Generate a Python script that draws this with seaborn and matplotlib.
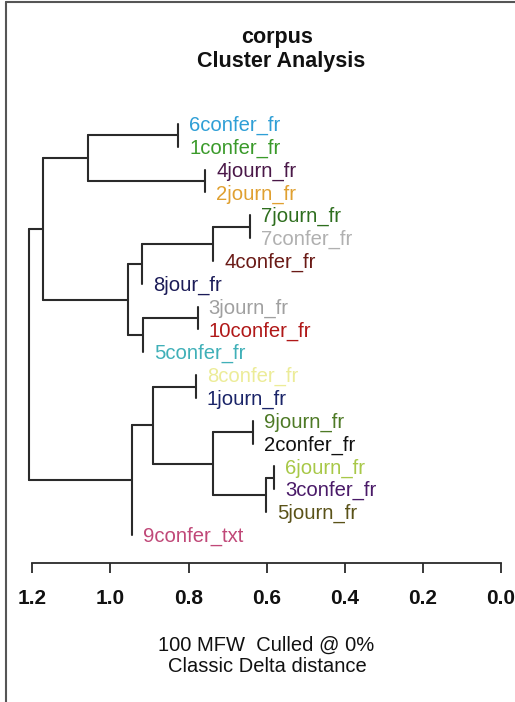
import numpy as np
import pandas as pd
import matplotlib
matplotlib.use("Agg")
import matplotlib.pyplot as plt
from matplotlib.lines import Line2D
import seaborn as sns

sns.set_theme(style="white")
plt.rcParams['font.family'] = ['Liberation Sans', 'DejaVu Sans']

# ---- data ----
leaves = ["6confer_fr", "1confer_fr", "4journ_fr", "2journ_fr", "7journ_fr",
          "7confer_fr", "4confer_fr", "8jour_fr", "3journ_fr", "10confer_fr",
          "5confer_fr", "8confer_fr", "1journ_fr", "9journ_fr", "2confer_fr",
          "6journ_fr", "3confer_fr", "5journ_fr", "9confer_txt"]
leaf_colors = ["#2f9fd6", "#3a9a2a", "#4a1848", "#e0a030", "#2e6e1e",
               "#b0b0b0", "#6a1a16", "#1c1c58", "#a0a0a0", "#b01818",
               "#40b0b8", "#ecec98", "#1a2468", "#4e7a26", "#101010",
               "#a8c848", "#4a1a68", "#5a5218", "#c04878"]
node_names = ["n1", "n2", "n3", "n4", "n5", "n6", "n7", "n8", "n9", "n10",
              "n11", "n12", "n13", "n14", "n15", "n16", "n17", "root"]
node_children = [["6confer_fr", "1confer_fr"], ["4journ_fr", "2journ_fr"], ["n1", "n2"],
                 ["7journ_fr", "7confer_fr"], ["n4", "4confer_fr"], ["n5", "8jour_fr"],
                 ["3journ_fr", "10confer_fr"], ["n7", "5confer_fr"], ["n6", "n8"],
                 ["n3", "n9"], ["8confer_fr", "1journ_fr"], ["9journ_fr", "2confer_fr"],
                 ["6journ_fr", "3confer_fr"], ["n13", "5journ_fr"], ["n12", "n14"],
                 ["n11", "n15"], ["n16", "9confer_txt"], ["n10", "n17"]]
node_heights = [0.826, 0.757, 1.057, 0.643, 0.737, 0.919, 0.777, 0.916, 0.955,
                1.173, 0.781, 0.635, 0.580, 0.602, 0.737, 0.891, 0.945, 1.208]
tick_values = [1.2, 1.0, 0.8, 0.6, 0.4, 0.2, 0.0]
tick_labels = ["1.2", "1.0", "0.8", "0.6", "0.4", "0.2", "0.0"]
title_lines = ["corpus", "Cluster Analysis"]
subtitle_lines = ["100 MFW  Culled @ 0%", "Classic Delta distance"]

# ---- tree geometry ----
ypos = {name: i for i, name in enumerate(leaves)}
height = dict(zip(node_names, node_heights))
parent_h = {}
for name, ch in zip(node_names, node_children):
    for c in ch:
        parent_h[c] = height[name]


def y_of(n):
    if n in ypos:
        return ypos[n]
    ch = node_children[node_names.index(n)]
    ypos[n] = (y_of(ch[0]) + y_of(ch[-1])) / 2.0
    return ypos[n]


for n in node_names:
    y_of(n)

rows = []
seg = 0
for name, ch in zip(node_names, node_children):
    h = height[name]
    rows.append((seg, h, ypos[ch[0]]))
    rows.append((seg, h, ypos[ch[-1]]))
    seg += 1
    for c in ch:
        ch_h = height.get(c, h)  # leaves sit at their parent's height
        if ch_h != h:
            rows.append((seg, h, ypos[c]))
            rows.append((seg, ch_h, ypos[c]))
            seg += 1
df = pd.DataFrame(rows, columns=["seg", "x", "y"])

# ---- figure ----
W, H = 515, 702
fig = plt.figure(figsize=(W / 100, H / 100), dpi=100)
ax = fig.add_axes([0, 0, 1, 1])

sns.lineplot(data=df, x="x", y="y", units="seg", estimator=None, sort=False,
             color="#2a2a2a", lw=1.5, ax=ax, legend=False)

x0px, ppu = 501.0, 390.6
y0px, ppl = 124.0, 22.83
ax.set_xlim(x0px / ppu, (x0px - W) / ppu)
ax.set_ylim((H - y0px) / ppl, -y0px / ppl)

for i, (lab, col) in enumerate(zip(leaves, leaf_colors)):
    ax.text(parent_h[lab] - 11 / ppu, i + 0.30, lab, color=col, fontsize=14.6,
            ha="left", va="baseline", clip_on=False)

ax.set_xlabel("")
ax.set_ylabel("")
ax.set_yticks([])
for s in ["top", "left", "right"]:
    ax.spines[s].set_visible(False)
ax.spines["bottom"].set_position(("data", (563 - y0px) / ppl))
ax.spines["bottom"].set_bounds(0.0, 1.2)
ax.spines["bottom"].set_color("#2a2a2a")
ax.spines["bottom"].set_linewidth(1.3)
ax.set_xticks(tick_values)
ax.set_xticklabels(tick_labels, fontsize=15, fontweight="bold")
ax.tick_params(axis="x", direction="out", length=7, width=1.3, color="#2a2a2a",
               pad=12, bottom=True, labelcolor="#111111")
ax.patch.set_alpha(0)

fig.text(277 / W, 1 - 38 / H, title_lines[0], ha="center", va="center",
         fontsize=15.5, fontweight="bold", color="#111111")
fig.text(281 / W, 1 - 61 / H, title_lines[1], ha="center", va="center",
         fontsize=15.5, fontweight="bold", color="#111111")
fig.text(266 / W, 1 - 651 / H, subtitle_lines[0], ha="center", va="baseline",
         fontsize=14.5, color="#111111")
fig.text(267 / W, 1 - 672 / H, subtitle_lines[1], ha="center", va="baseline",
         fontsize=14.5, color="#111111")

fig.add_artist(Line2D([5.5 / W, 1], [1 - 1.5 / H, 1 - 1.5 / H], transform=fig.transFigure,
                      color="#555555", lw=1.5))
fig.add_artist(Line2D([5.5 / W, 5.5 / W], [0, 1 - 1.5 / H], transform=fig.transFigure,
                      color="#555555", lw=1.5))

fig.savefig("out.png", dpi=100, facecolor="white")
